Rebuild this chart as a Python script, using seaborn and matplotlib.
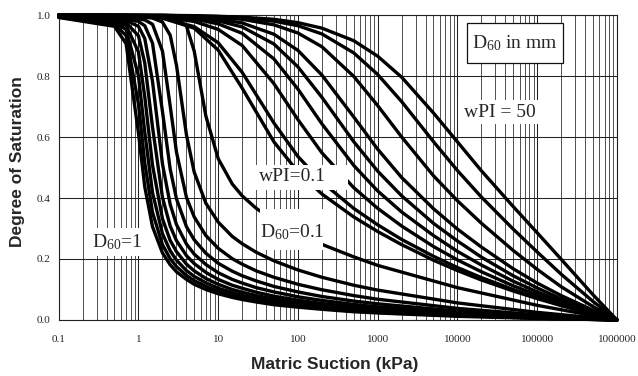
import numpy as np
import pandas as pd
import matplotlib
matplotlib.use("Agg")
import matplotlib.pyplot as plt
import seaborn as sns
from matplotlib import font_manager
from matplotlib.patches import Rectangle
from matplotlib.ticker import LogLocator, NullFormatter

# ================= DATA =================
# granular soils (D60 in mm), degree of saturation read at these suctions (kPa)
granular_suction = [0.1, 0.5, 0.7, 1, 1.2, 1.5, 2, 2.5, 3, 4, 5, 7, 10, 15, 20, 30,
                    50, 100, 200, 500, 1e3, 1e4, 1e5, 1e6]
sat_d60_1_0 = [0.992, 0.963, 0.906, 0.613, 0.437, 0.306, 0.220, 0.181, 0.158, 0.133, 0.117, 0.100,
               0.086, 0.074, 0.067, 0.059, 0.050, 0.042, 0.035, 0.027, 0.023, 0.012, 0.005, 0.0]
sat_d60_0_9 = [0.993, 0.969, 0.933, 0.708, 0.516, 0.353, 0.247, 0.201, 0.175, 0.146, 0.129, 0.110,
               0.094, 0.081, 0.073, 0.064, 0.055, 0.046, 0.038, 0.030, 0.025, 0.014, 0.006, 0.0]
sat_d60_0_8 = [0.994, 0.974, 0.953, 0.801, 0.616, 0.418, 0.283, 0.227, 0.196, 0.162, 0.143, 0.122,
               0.104, 0.090, 0.081, 0.071, 0.061, 0.051, 0.042, 0.034, 0.028, 0.015, 0.006, 0.0]
sat_d60_0_7 = [0.995, 0.979, 0.966, 0.879, 0.732, 0.508, 0.332, 0.261, 0.224, 0.183, 0.161, 0.136,
               0.117, 0.100, 0.091, 0.080, 0.069, 0.057, 0.047, 0.038, 0.032, 0.017, 0.007, 0.0]
sat_d60_0_6 = [0.997, 0.984, 0.975, 0.932, 0.843, 0.633, 0.402, 0.308, 0.260, 0.211, 0.185, 0.156,
               0.133, 0.114, 0.104, 0.091, 0.078, 0.065, 0.054, 0.043, 0.037, 0.020, 0.009, 0.0]
sat_d60_0_5 = [0.997, 0.988, 0.982, 0.963, 0.923, 0.783, 0.512, 0.379, 0.313, 0.249, 0.216, 0.182,
               0.155, 0.133, 0.121, 0.106, 0.092, 0.076, 0.064, 0.051, 0.043, 0.024, 0.010, 0.0]
sat_d60_0_4 = [0.998, 0.991, 0.988, 0.979, 0.965, 0.908, 0.684, 0.495, 0.397, 0.306, 0.263, 0.219,
               0.186, 0.160, 0.145, 0.128, 0.110, 0.092, 0.077, 0.062, 0.053, 0.029, 0.013, 0.0]
sat_d60_0_3 = [0.999, 0.994, 0.992, 0.988, 0.984, 0.970, 0.882, 0.702, 0.550, 0.402, 0.338, 0.277,
               0.235, 0.201, 0.183, 0.161, 0.140, 0.117, 0.099, 0.080, 0.068, 0.038, 0.017, 0.0]
sat_d60_0_2 = [0.999, 0.997, 0.996, 0.994, 0.993, 0.990, 0.977, 0.934, 0.835, 0.607, 0.485, 0.383,
               0.321, 0.274, 0.250, 0.222, 0.194, 0.164, 0.140, 0.114, 0.098, 0.056, 0.025, 0.0]
sat_d60_0_1 = [1.0, 0.999, 0.999, 0.998, 0.998, 0.997, 0.996, 0.994, 0.990, 0.964, 0.882, 0.669,
               0.529, 0.446, 0.407, 0.366, 0.326, 0.284, 0.248, 0.207, 0.179, 0.106, 0.048, 0.0]

# plastic soils (wPI), degree of saturation read at these suctions (kPa)
plastic_suction = [0.1, 1, 2, 5, 10, 20, 50, 100, 200, 500, 1e3, 2e3, 5e3, 1e4, 2e4, 5e4,
                   1e5, 2e5, 5e5, 1e6]
sat_wpi_0_1 = [1.0, 0.997, 0.990, 0.957, 0.885, 0.760, 0.584, 0.486, 0.413, 0.338, 0.290, 0.247,
               0.196, 0.162, 0.131, 0.095, 0.070, 0.047, 0.019, 0.0]
sat_wpi_1 = [1.0, 0.996, 0.990, 0.962, 0.909, 0.812, 0.646, 0.536, 0.452, 0.366, 0.312, 0.264,
             0.209, 0.172, 0.139, 0.100, 0.073, 0.049, 0.020, 0.0]
sat_wpi_5 = [1.0, 0.997, 0.993, 0.979, 0.953, 0.900, 0.775, 0.657, 0.548, 0.434, 0.366, 0.308,
             0.241, 0.197, 0.158, 0.112, 0.082, 0.054, 0.022, 0.0]
sat_wpi_10 = [1.0, 0.998, 0.995, 0.987, 0.971, 0.940, 0.856, 0.757, 0.643, 0.507, 0.423, 0.354,
              0.277, 0.225, 0.180, 0.127, 0.092, 0.061, 0.025, 0.0]
sat_wpi_15 = [1.0, 0.999, 0.997, 0.991, 0.981, 0.961, 0.905, 0.830, 0.730, 0.585, 0.488, 0.407,
              0.317, 0.259, 0.206, 0.145, 0.105, 0.069, 0.028, 0.0]
sat_wpi_20 = [1.0, 0.999, 0.998, 0.994, 0.987, 0.974, 0.937, 0.884, 0.803, 0.666, 0.560, 0.467,
              0.365, 0.298, 0.239, 0.168, 0.121, 0.080, 0.032, 0.0]
sat_wpi_30 = [1.0, 0.999, 0.999, 0.996, 0.993, 0.986, 0.968, 0.941, 0.896, 0.799, 0.703, 0.600,
              0.473, 0.391, 0.317, 0.228, 0.166, 0.109, 0.044, 0.0]
sat_wpi_40 = [1.0, 0.999, 0.999, 0.997, 0.995, 0.991, 0.980, 0.965, 0.938, 0.876, 0.805, 0.716,
              0.585, 0.490, 0.403, 0.298, 0.223, 0.150, 0.061, 0.0]
sat_wpi_50 = [1.0, 0.999, 0.999, 0.998, 0.996, 0.993, 0.986, 0.975, 0.957, 0.916, 0.865, 0.796,
              0.679, 0.584, 0.489, 0.372, 0.286, 0.199, 0.083, 0.0]

x_ticks = [0.1, 1, 10, 100, 1000, 10000, 100000, 1000000]
x_tick_labels = ["0.1", "1", "10", "100", "1000", "10000", "100000", "1000000"]
y_ticks = [0.0, 0.2, 0.4, 0.6, 0.8, 1.0]
y_tick_labels = ["0.0", "0.2", "0.4", "0.6", "0.8", "1.0"]

# ================= TABLE =================
granular_curves = {
    "D60=1.0": sat_d60_1_0, "D60=0.9": sat_d60_0_9, "D60=0.8": sat_d60_0_8,
    "D60=0.7": sat_d60_0_7, "D60=0.6": sat_d60_0_6, "D60=0.5": sat_d60_0_5,
    "D60=0.4": sat_d60_0_4, "D60=0.3": sat_d60_0_3, "D60=0.2": sat_d60_0_2,
    "D60=0.1": sat_d60_0_1,
}
plastic_curves = {
    "wPI=0.1": sat_wpi_0_1, "wPI=1": sat_wpi_1, "wPI=5": sat_wpi_5, "wPI=10": sat_wpi_10,
    "wPI=15": sat_wpi_15, "wPI=20": sat_wpi_20, "wPI=30": sat_wpi_30, "wPI=40": sat_wpi_40,
    "wPI=50": sat_wpi_50,
}
frames = [pd.DataFrame({"suction": granular_suction, "saturation": v, "curve": k})
          for k, v in granular_curves.items()]
frames += [pd.DataFrame({"suction": plastic_suction, "saturation": v, "curve": k})
           for k, v in plastic_curves.items()]
df = pd.concat(frames, ignore_index=True)

# ================= STYLE =================
sns.set_style("white")
plt.rcParams["font.family"] = ["Liberation Serif", "DejaVu Serif"]
plt.rcParams["mathtext.fontset"] = "custom"
plt.rcParams["mathtext.rm"] = "Liberation Serif"

names = {f.name for f in font_manager.fontManager.ttflist}
if "Liberation Sans Narrow" in names:
    label_font, label_size = "Liberation Sans Narrow", 15
else:
    label_font, label_size = "Liberation Sans", 12.5

# ================= PLOT =================
fig = plt.figure(figsize=(6.38, 3.76), dpi=100)
ax = fig.add_axes([0.092, 0.149, 0.875, 0.811])
ax.set_xscale("log")

sns.lineplot(data=df, x="suction", y="saturation", units="curve", estimator=None,
             color="black", linewidth=2.4, legend=False, ax=ax, clip_on=False, zorder=3)

ax.set_xlim(0.1, 1e6)
ax.set_ylim(0, 1.0)

ax.set_xticks(x_ticks)
ax.set_xticklabels(x_tick_labels)
ax.xaxis.set_minor_locator(LogLocator(base=10, subs=np.arange(2, 10), numticks=100))
ax.xaxis.set_minor_formatter(NullFormatter())
ax.set_yticks(y_ticks)
ax.set_yticklabels(y_tick_labels)

ax.tick_params(axis="x", which="both", length=0, pad=10.5, labelsize=8)
ax.tick_params(axis="y", which="major", length=4.5, width=0.8, pad=1.2, labelsize=8,
               color="#222222")

ax.set_axisbelow(True)
ax.grid(which="major", axis="both", color="#222222", linewidth=0.75)
ax.grid(which="minor", axis="x", color="#333333", linewidth=0.6)
for sp in ax.spines.values():
    sp.set_color("#222222")
    sp.set_linewidth(0.8)

xl = ax.set_xlabel("Matric Suction (kPa)", family=label_font, fontweight="bold",
                   fontsize=label_size)
ax.xaxis.set_label_coords(0.495, -0.1475)
xl.set_va("center")
yl = ax.set_ylabel("Degree of Saturation", family=label_font, fontweight="bold",
                   fontsize=label_size)
ax.yaxis.set_label_coords(-0.073, 0.518)
yl.set_rotation_mode("default")
yl.set_va("center")
yl.set_ha("center")

# ================= LABELS =================
# white patches behind the labels (they hide the curves there)
for x0, y0, w, h in [(0.3516, 0.4262, 0.1666, 0.082),
                     (0.3606, 0.2295, 0.1128, 0.1344),
                     (0.0525, 0.2098, 0.1057, 0.0918),
                     (0.7152, 0.6426, 0.1487, 0.0787)]:
    ax.add_patch(Rectangle((x0, y0), w, h, transform=ax.transAxes, facecolor="white",
                           edgecolor="none", zorder=5, clip_on=False))
ax.add_patch(Rectangle((0.7313, 0.8426), 0.172, 0.1311, transform=ax.transAxes,
                       facecolor="white", edgecolor="#111111", linewidth=0.9, zorder=5))

txt = dict(transform=ax.transAxes, ha="center", va="center", fontsize=14, zorder=6)
ax.text(0.8173, 0.908, r"D$\mathregular{_{60}}$ in mm", **txt)
ax.text(0.7905, 0.682, "wPI = 50", **txt)
ax.text(0.4188, 0.469, "wPI=0.1", **txt)
ax.text(0.4179, 0.2885, r"D$\mathregular{_{60}}$=0.1", **txt)
ax.text(0.1044, 0.2557, r"D$\mathregular{_{60}}$=1", **txt)

plt.savefig("out.png", dpi=100)
